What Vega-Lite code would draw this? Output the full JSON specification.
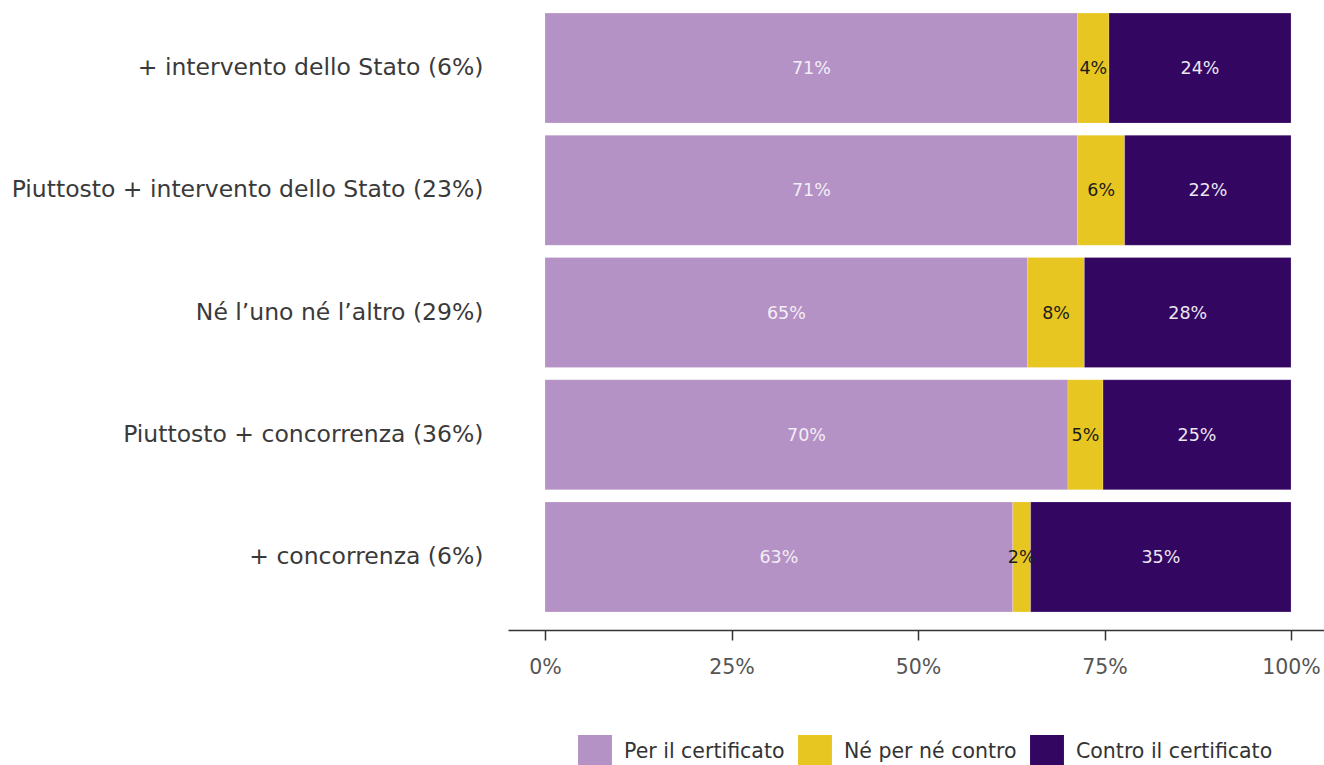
{
  "$schema": "https://vega.github.io/schema/vega-lite/v6.json",
  "autosize": {"type": "none"},
  "padding": {"left": 508, "top": 7, "right": 0, "bottom": 147},
  "width": 816,
  "height": 611,
  "background": "white",
  "config": {
    "font": "DejaVu Sans",
    "view": {"stroke": null},
    "axis": {"grid": false}
  },
  "data": {
    "values": [
      {"gruppo": "+ intervento dello Stato (6%)", "risposta": "Per il certificato", "ordine": 1, "valore": 0.714},
      {"gruppo": "+ intervento dello Stato (6%)", "risposta": "Né per né contro", "ordine": 2, "valore": 0.042},
      {"gruppo": "+ intervento dello Stato (6%)", "risposta": "Contro il certificato", "ordine": 3, "valore": 0.244},
      {"gruppo": "Piuttosto + intervento dello Stato (23%)", "risposta": "Per il certificato", "ordine": 1, "valore": 0.714},
      {"gruppo": "Piuttosto + intervento dello Stato (23%)", "risposta": "Né per né contro", "ordine": 2, "valore": 0.063},
      {"gruppo": "Piuttosto + intervento dello Stato (23%)", "risposta": "Contro il certificato", "ordine": 3, "valore": 0.223},
      {"gruppo": "Né l’uno né l’altro (29%)", "risposta": "Per il certificato", "ordine": 1, "valore": 0.647},
      {"gruppo": "Né l’uno né l’altro (29%)", "risposta": "Né per né contro", "ordine": 2, "valore": 0.076},
      {"gruppo": "Né l’uno né l’altro (29%)", "risposta": "Contro il certificato", "ordine": 3, "valore": 0.277},
      {"gruppo": "Piuttosto + concorrenza (36%)", "risposta": "Per il certificato", "ordine": 1, "valore": 0.701},
      {"gruppo": "Piuttosto + concorrenza (36%)", "risposta": "Né per né contro", "ordine": 2, "valore": 0.047},
      {"gruppo": "Piuttosto + concorrenza (36%)", "risposta": "Contro il certificato", "ordine": 3, "valore": 0.252},
      {"gruppo": "+ concorrenza (6%)", "risposta": "Per il certificato", "ordine": 1, "valore": 0.627},
      {"gruppo": "+ concorrenza (6%)", "risposta": "Né per né contro", "ordine": 2, "valore": 0.024},
      {"gruppo": "+ concorrenza (6%)", "risposta": "Contro il certificato", "ordine": 3, "valore": 0.349}
    ]
  },
  "encoding": {
    "y": {
      "field": "gruppo",
      "type": "nominal",
      "sort": null,
      "scale": {"paddingInner": 0.1, "paddingOuter": 0.05},
      "axis": {
        "title": null,
        "domain": false,
        "ticks": false,
        "labelPadding": 25,
        "labelFontSize": 23.5,
        "labelColor": "#3a3a3a",
        "labelLimit": 600
      }
    },
    "x": {
      "field": "valore",
      "type": "quantitative",
      "stack": "zero",
      "scale": {"domain": [-0.0496, 1.0442], "nice": false, "zero": false},
      "axis": {
        "title": null,
        "values": [0, 0.25, 0.5, 0.75, 1],
        "format": ".0%",
        "offset": 12,
        "domainColor": "#333333",
        "domainWidth": 1.5,
        "tickColor": "#333333",
        "tickWidth": 1.5,
        "tickSize": 10,
        "labelPadding": 17,
        "labelFontSize": 20.5,
        "labelColor": "#555555"
      }
    },
    "order": {"field": "ordine", "type": "quantitative"}
  },
  "layer": [
    {
      "mark": {"type": "bar", "stroke": "#ffffff", "strokeWidth": 0.5, "strokeOpacity": 0.4},
      "encoding": {
        "color": {
          "field": "risposta",
          "type": "nominal",
          "scale": {
            "domain": ["Per il certificato", "Né per né contro", "Contro il certificato"],
            "range": ["#b592c5", "#e8c621", "#330662"]
          },
          "legend": {
            "title": null,
            "orient": "none",
            "legendX": 70,
            "legendY": 728,
            "direction": "horizontal",
            "symbolType": "square",
            "symbolSize": 1150,
            "symbolStrokeWidth": 0,
            "symbolOpacity": 1,
            "labelFontSize": 20.5,
            "labelColor": "#333333",
            "labelOffset": 12,
            "labelLimit": 400,
            "columnPadding": 13
          }
        }
      }
    },
    {
      "mark": {"type": "text", "fontSize": 17.5, "align": "center", "baseline": "middle", "dy": 1},
      "encoding": {
        "x": {
          "field": "valore",
          "type": "quantitative",
          "stack": "zero",
          "bandPosition": 0.5
        },
        "text": {"field": "valore", "type": "quantitative", "format": ".0%"},
        "color": {
          "field": "risposta",
          "type": "nominal",
          "scale": {
            "domain": ["Per il certificato", "Né per né contro", "Contro il certificato"],
            "range": ["#f3eef6", "#1c1c1c", "#ece6f1"]
          },
          "legend": null
        }
      }
    }
  ],
  "resolve": {"scale": {"color": "independent"}}
}
